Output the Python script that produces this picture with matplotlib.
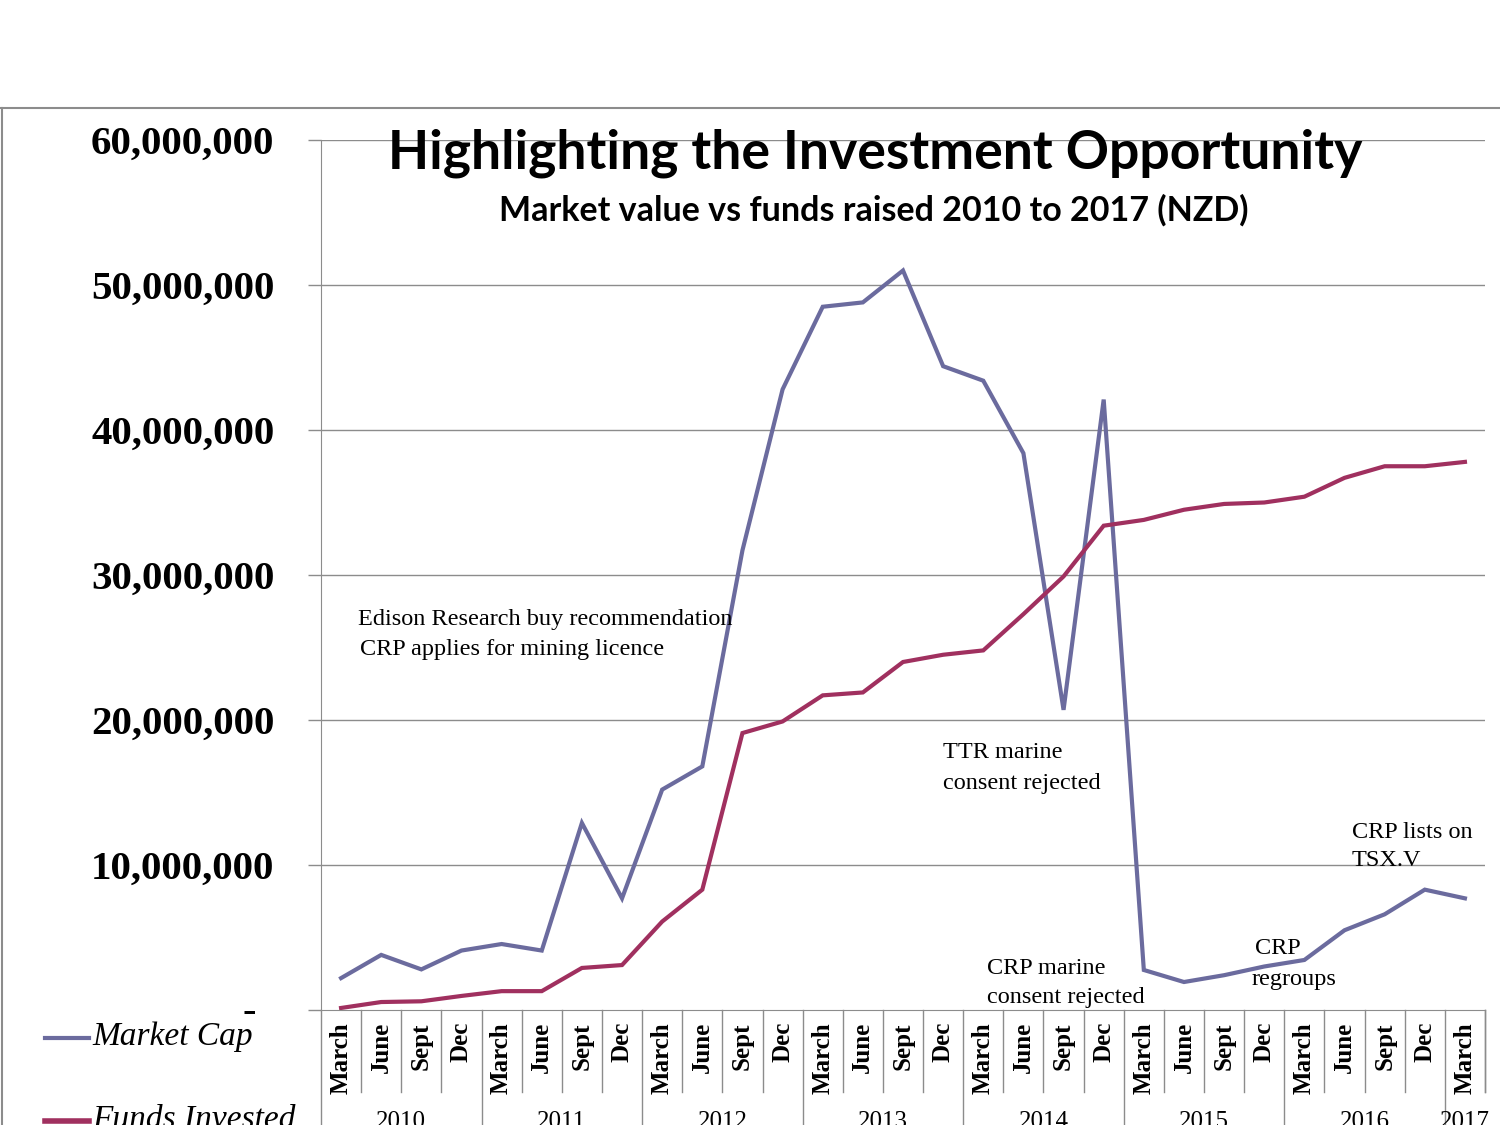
import matplotlib.pyplot as plt
from matplotlib.lines import Line2D
import numpy as np

W, H = 1500, 1125

quarters = ['March', 'June', 'Sept', 'Dec'] * 7 + ['March']
years = ['2010', '2011', '2012', '2013', '2014', '2015', '2016', '2017']

market_cap = [2.2, 3.8, 2.8, 4.1, 4.55, 4.1, 12.9, 7.7, 15.2, 16.8, 31.7, 42.8,
              48.5, 48.8, 51.0, 44.4, 43.4, 38.4, 20.7, 42.1, 2.76, 1.93, 2.4,
              3.0, 3.45, 5.5, 6.6, 8.3, 7.7]
funds_invested = [0.14, 0.55, 0.6, 0.97, 1.3, 1.3, 2.9, 3.1, 6.1, 8.3, 19.1, 19.9,
                  21.7, 21.9, 24.0, 24.5, 24.8, 27.3, 29.9, 33.4, 33.8, 34.5, 34.9,
                  35.0, 35.4, 36.7, 37.5, 37.5, 37.8]
market_cap = np.array(market_cap) * 1e6
funds_invested = np.array(funds_invested) * 1e6

c_mc = '#6b6b9e'
c_fi = '#a0305f'
grid_c = '#8c8c8c'
serif = ['Liberation Serif', 'DejaVu Serif']
sans = ['Lato', 'DejaVu Sans']


def px(x, y):
    return x / W, 1 - y / H


fig = plt.figure(figsize=(15, 11.25), dpi=100)

# plot area in pixels: x 321..1485, y 140..1010
ax = fig.add_axes([321 / W, 1 - 1010 / H, (1485 - 321) / W, (1010 - 140) / H])
x = np.arange(len(quarters))
ax.plot(x, market_cap, color=c_mc, lw=3, solid_joinstyle='miter')
ax.plot(x, funds_invested, color=c_fi, lw=3, solid_joinstyle='miter')
ax.set_xlim(-0.5, len(quarters) - 0.5)
ax.set_ylim(0, 60e6)

yt = np.arange(0, 60e6 + 1, 10e6)
ax.set_yticks(yt)
ax.set_yticklabels([''] + ['{:,.0f}'.format(v) for v in yt[1:]],
                   family=serif, fontsize=29.5, fontweight='bold')
ax.tick_params(axis='y', length=9.5, width=1, color=grid_c, pad=24)
ax.set_xticks([])
for v in yt[1:]:
    ax.axhline(v, color=grid_c, lw=1, zorder=0)
for s in ['top', 'right']:
    ax.spines[s].set_visible(False)
ax.spines['left'].set_color(grid_c)
ax.spines['bottom'].set_color(grid_c)
ax.set_facecolor('none')

# zero label
fig.text(*px(249, 1012), '-', family=serif, fontsize=29, fontweight='bold',
         ha='center', va='center')

# category axis: quarter labels, separators, year labels
cw = (1485 - 321) / len(quarters)
for i, q in enumerate(quarters):
    cx = 321 + cw * (i + 0.5)
    fig.text(*px(cx, 1022), q, family=serif, fontsize=18, fontweight='bold',
             rotation=90, ha='center', va='top')
for k in range(len(quarters) + 1):
    bx = 321 + cw * k
    if k % 4 == 0:
        fig.add_artist(Line2D([bx / W, bx / W], [0, 1 - 1010 / H], color=grid_c, lw=1))
    else:
        fig.add_artist(Line2D([bx / W, bx / W], [1 - 1092 / H, 1 - 1010 / H],
                              color=grid_c, lw=1))
fig.add_artist(Line2D([1485 / W, 1485 / W], [1 - 1092 / H, 1 - 1010 / H],
                      color=grid_c, lw=1))
for j, yr in enumerate(years):
    n = min(4, len(quarters) - 4 * j)
    cx = 321 + cw * (4 * j + n / 2)
    fig.text(*px(cx, 1111), yr, family=serif, fontsize=18, ha='center', va='top')

# slide frame
fig.add_artist(Line2D([0, 1], [1 - 108 / H, 1 - 108 / H], color=grid_c, lw=1.5))
fig.add_artist(Line2D([1.5 / W, 1.5 / W], [0, 1 - 108 / H], color=grid_c, lw=1.5))

# titles
fig.text(*px(875, 153), 'Highlighting the Investment Opportunity',
         family=sans, fontsize=38.5, fontweight='bold', ha='center', va='center')
fig.text(*px(874, 210), 'Market value vs funds raised 2010 to 2017 (NZD)',
         family=sans, fontsize=24.5, fontweight='bold', ha='center', va='center')

# annotations
notes = [
    (358, 620, 'Edison Research buy recommendation'),
    (360, 650, 'CRP applies for mining licence'),
    (943, 753, 'TTR marine'),
    (943, 783, 'consent rejected'),
    (987, 968, 'CRP marine'),
    (987, 997, 'consent rejected'),
    (1255, 948, 'CRP'),
    (1252, 979, 'regroups'),
    (1352, 833, 'CRP lists on'),
    (1352, 860, 'TSX.V'),
]
for nx, ny, t in notes:
    fig.text(*px(nx, ny), t, family=serif, fontsize=17.5, ha='left', va='center')

# legend
fig.add_artist(Line2D([45 / W, 89 / W], [1 - 1038 / H] * 2, color=c_mc, lw=3))
fig.text(*px(92, 1037), 'Market Cap', family=serif, fontsize=24, style='italic',
         ha='left', va='center')
fig.add_artist(Line2D([45 / W, 89 / W], [1 - 1121 / H] * 2, color=c_fi, lw=4))
fig.text(*px(92, 1120), 'Funds Invested', family=serif, fontsize=24, style='italic',
         ha='left', va='center')

fig.savefig('out.png', dpi=100)
